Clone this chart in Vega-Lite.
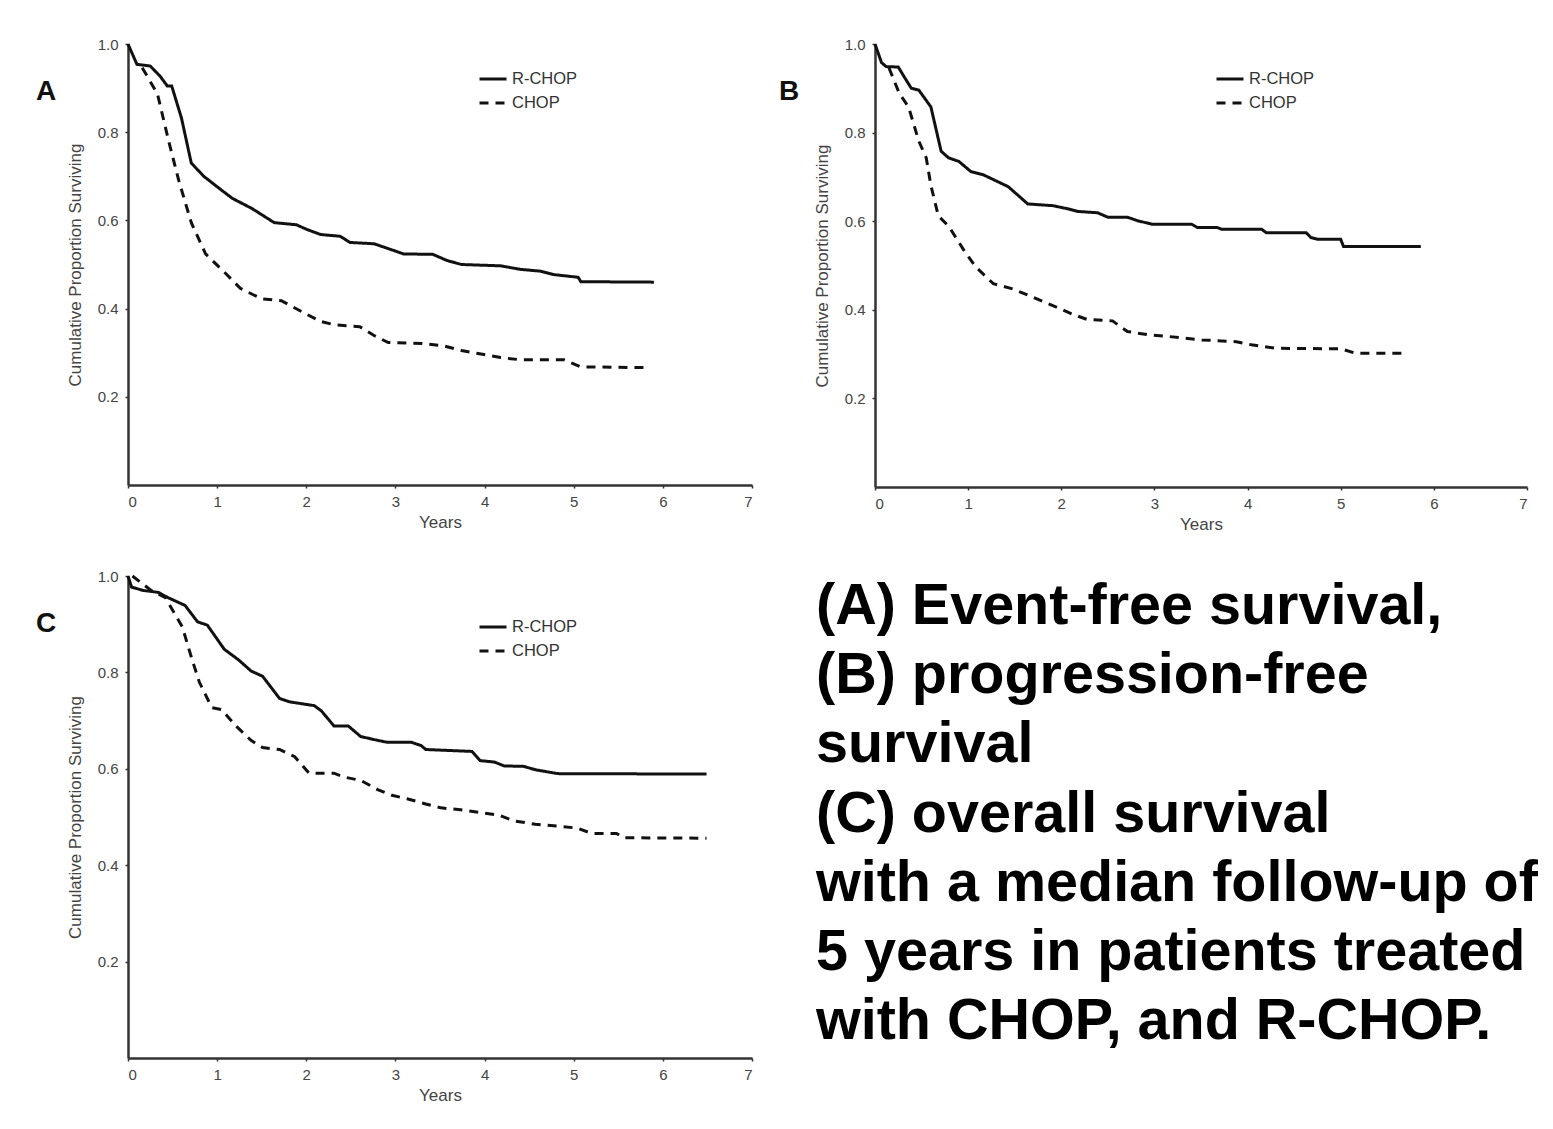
{
  "$schema": "https://vega.github.io/schema/vega-lite/v6.json",
  "background": "white",
  "padding": {"left": 36, "top": 37, "right": 0, "bottom": 0},
  "config": {
    "view": {"stroke": null},
    "axis": {"grid": false, "domainColor": "#333", "domainWidth": 2.5, "tickColor": "#333", "tickSize": 3, "tickWidth": 1.5, "labelFont": "Liberation Sans Narrow, Liberation Sans, Arial", "labelFontSize": 15, "labelColor": "#444", "titleFont": "Liberation Sans Narrow, Liberation Sans, Arial", "titleFontSize": 17, "titleFontWeight": "normal", "titleColor": "#444"},
    "axisX": {"labelPadding": 6, "titlePadding": 5},
    "axisY": {"labelPadding": 7, "titlePadding": 13},
    "legend": {"labelFont": "Liberation Sans Narrow, Liberation Sans, Arial", "labelFontSize": 16.5, "labelColor": "#333"},
    "title": {"font": "Liberation Sans", "fontSize": 28, "fontWeight": "bold", "color": "#111", "anchor": "start", "frame": "group", "offset": 0}
  },
  "data": {"values": [
    {"panel":"A","series":"R-CHOP","t":0,"s":1.0},{"panel":"A","series":"R-CHOP","t":0.1,"s":0.954},{"panel":"A","series":"R-CHOP","t":0.25,"s":0.95},{"panel":"A","series":"R-CHOP","t":0.36,"s":0.927},{"panel":"A","series":"R-CHOP","t":0.44,"s":0.905},{"panel":"A","series":"R-CHOP","t":0.49,"s":0.905},{"panel":"A","series":"R-CHOP","t":0.6,"s":0.832},{"panel":"A","series":"R-CHOP","t":0.71,"s":0.73},{"panel":"A","series":"R-CHOP","t":0.85,"s":0.70},{"panel":"A","series":"R-CHOP","t":1.04,"s":0.67},{"panel":"A","series":"R-CHOP","t":1.17,"s":0.65},{"panel":"A","series":"R-CHOP","t":1.39,"s":0.627},{"panel":"A","series":"R-CHOP","t":1.64,"s":0.595},{"panel":"A","series":"R-CHOP","t":1.89,"s":0.59},{"panel":"A","series":"R-CHOP","t":2.0,"s":0.58},{"panel":"A","series":"R-CHOP","t":2.16,"s":0.568},{"panel":"A","series":"R-CHOP","t":2.38,"s":0.564},{"panel":"A","series":"R-CHOP","t":2.49,"s":0.55},{"panel":"A","series":"R-CHOP","t":2.76,"s":0.547},{"panel":"A","series":"R-CHOP","t":2.92,"s":0.536},{"panel":"A","series":"R-CHOP","t":3.09,"s":0.524},{"panel":"A","series":"R-CHOP","t":3.42,"s":0.523},{"panel":"A","series":"R-CHOP","t":3.58,"s":0.509},{"panel":"A","series":"R-CHOP","t":3.74,"s":0.50},{"panel":"A","series":"R-CHOP","t":4.18,"s":0.497},{"panel":"A","series":"R-CHOP","t":4.4,"s":0.489},{"panel":"A","series":"R-CHOP","t":4.62,"s":0.485},{"panel":"A","series":"R-CHOP","t":4.78,"s":0.477},{"panel":"A","series":"R-CHOP","t":5.05,"s":0.471},{"panel":"A","series":"R-CHOP","t":5.08,"s":0.461},{"panel":"A","series":"R-CHOP","t":5.9,"s":0.46},
    {"panel":"A","series":"CHOP","t":0.16,"s":0.946},{"panel":"A","series":"CHOP","t":0.33,"s":0.887},{"panel":"A","series":"CHOP","t":0.46,"s":0.777},{"panel":"A","series":"CHOP","t":0.57,"s":0.69},{"panel":"A","series":"CHOP","t":0.71,"s":0.595},{"panel":"A","series":"CHOP","t":0.87,"s":0.524},{"panel":"A","series":"CHOP","t":1.07,"s":0.485},{"panel":"A","series":"CHOP","t":1.26,"s":0.446},{"panel":"A","series":"CHOP","t":1.5,"s":0.422},{"panel":"A","series":"CHOP","t":1.72,"s":0.418},{"panel":"A","series":"CHOP","t":1.94,"s":0.394},{"panel":"A","series":"CHOP","t":2.16,"s":0.371},{"panel":"A","series":"CHOP","t":2.32,"s":0.363},{"panel":"A","series":"CHOP","t":2.6,"s":0.359},{"panel":"A","series":"CHOP","t":2.76,"s":0.339},{"panel":"A","series":"CHOP","t":2.92,"s":0.323},{"panel":"A","series":"CHOP","t":3.3,"s":0.321},{"panel":"A","series":"CHOP","t":3.55,"s":0.315},{"panel":"A","series":"CHOP","t":3.74,"s":0.305},{"panel":"A","series":"CHOP","t":3.96,"s":0.297},{"panel":"A","series":"CHOP","t":4.18,"s":0.289},{"panel":"A","series":"CHOP","t":4.4,"s":0.284},{"panel":"A","series":"CHOP","t":4.89,"s":0.284},{"panel":"A","series":"CHOP","t":5.08,"s":0.268},{"panel":"A","series":"CHOP","t":5.85,"s":0.266},
    {"panel":"B","series":"R-CHOP","t":0,"s":1.0},{"panel":"B","series":"R-CHOP","t":0.07,"s":0.958},{"panel":"B","series":"R-CHOP","t":0.12,"s":0.949},{"panel":"B","series":"R-CHOP","t":0.25,"s":0.948},{"panel":"B","series":"R-CHOP","t":0.31,"s":0.927},{"panel":"B","series":"R-CHOP","t":0.39,"s":0.90},{"panel":"B","series":"R-CHOP","t":0.47,"s":0.896},{"panel":"B","series":"R-CHOP","t":0.6,"s":0.858},{"panel":"B","series":"R-CHOP","t":0.71,"s":0.758},{"panel":"B","series":"R-CHOP","t":0.79,"s":0.743},{"panel":"B","series":"R-CHOP","t":0.9,"s":0.735},{"panel":"B","series":"R-CHOP","t":1.03,"s":0.712},{"panel":"B","series":"R-CHOP","t":1.16,"s":0.705},{"panel":"B","series":"R-CHOP","t":1.32,"s":0.689},{"panel":"B","series":"R-CHOP","t":1.43,"s":0.678},{"panel":"B","series":"R-CHOP","t":1.64,"s":0.639},{"panel":"B","series":"R-CHOP","t":1.91,"s":0.635},{"panel":"B","series":"R-CHOP","t":2.07,"s":0.628},{"panel":"B","series":"R-CHOP","t":2.18,"s":0.622},{"panel":"B","series":"R-CHOP","t":2.39,"s":0.619},{"panel":"B","series":"R-CHOP","t":2.5,"s":0.609},{"panel":"B","series":"R-CHOP","t":2.71,"s":0.609},{"panel":"B","series":"R-CHOP","t":2.82,"s":0.601},{"panel":"B","series":"R-CHOP","t":2.98,"s":0.593},{"panel":"B","series":"R-CHOP","t":3.4,"s":0.593},{"panel":"B","series":"R-CHOP","t":3.46,"s":0.586},{"panel":"B","series":"R-CHOP","t":3.67,"s":0.586},{"panel":"B","series":"R-CHOP","t":3.72,"s":0.582},{"panel":"B","series":"R-CHOP","t":4.15,"s":0.582},{"panel":"B","series":"R-CHOP","t":4.2,"s":0.574},{"panel":"B","series":"R-CHOP","t":4.63,"s":0.574},{"panel":"B","series":"R-CHOP","t":4.68,"s":0.563},{"panel":"B","series":"R-CHOP","t":4.76,"s":0.559},{"panel":"B","series":"R-CHOP","t":5.0,"s":0.559},{"panel":"B","series":"R-CHOP","t":5.03,"s":0.543},{"panel":"B","series":"R-CHOP","t":5.86,"s":0.543},
    {"panel":"B","series":"CHOP","t":0.15,"s":0.946},{"panel":"B","series":"CHOP","t":0.26,"s":0.889},{"panel":"B","series":"CHOP","t":0.36,"s":0.858},{"panel":"B","series":"CHOP","t":0.47,"s":0.781},{"panel":"B","series":"CHOP","t":0.55,"s":0.743},{"panel":"B","series":"CHOP","t":0.6,"s":0.681},{"panel":"B","series":"CHOP","t":0.68,"s":0.612},{"panel":"B","series":"CHOP","t":0.79,"s":0.589},{"panel":"B","series":"CHOP","t":0.95,"s":0.536},{"panel":"B","series":"CHOP","t":1.08,"s":0.497},{"panel":"B","series":"CHOP","t":1.27,"s":0.459},{"panel":"B","series":"CHOP","t":1.48,"s":0.447},{"panel":"B","series":"CHOP","t":1.7,"s":0.428},{"panel":"B","series":"CHOP","t":1.96,"s":0.405},{"panel":"B","series":"CHOP","t":2.12,"s":0.39},{"panel":"B","series":"CHOP","t":2.28,"s":0.378},{"panel":"B","series":"CHOP","t":2.55,"s":0.375},{"panel":"B","series":"CHOP","t":2.71,"s":0.351},{"panel":"B","series":"CHOP","t":2.92,"s":0.344},{"panel":"B","series":"CHOP","t":3.14,"s":0.34},{"panel":"B","series":"CHOP","t":3.51,"s":0.332},{"panel":"B","series":"CHOP","t":3.88,"s":0.328},{"panel":"B","series":"CHOP","t":4.04,"s":0.321},{"panel":"B","series":"CHOP","t":4.31,"s":0.313},{"panel":"B","series":"CHOP","t":5.0,"s":0.312},{"panel":"B","series":"CHOP","t":5.16,"s":0.302},{"panel":"B","series":"CHOP","t":5.72,"s":0.302},
    {"panel":"C","series":"R-CHOP","t":0,"s":1.0},{"panel":"C","series":"R-CHOP","t":0.04,"s":0.977},{"panel":"C","series":"R-CHOP","t":0.17,"s":0.97},{"panel":"C","series":"R-CHOP","t":0.34,"s":0.966},{"panel":"C","series":"R-CHOP","t":0.45,"s":0.955},{"panel":"C","series":"R-CHOP","t":0.64,"s":0.939},{"panel":"C","series":"R-CHOP","t":0.78,"s":0.905},{"panel":"C","series":"R-CHOP","t":0.89,"s":0.898},{"panel":"C","series":"R-CHOP","t":1.08,"s":0.848},{"panel":"C","series":"R-CHOP","t":1.24,"s":0.826},{"panel":"C","series":"R-CHOP","t":1.38,"s":0.803},{"panel":"C","series":"R-CHOP","t":1.51,"s":0.792},{"panel":"C","series":"R-CHOP","t":1.7,"s":0.746},{"panel":"C","series":"R-CHOP","t":1.81,"s":0.739},{"panel":"C","series":"R-CHOP","t":2.09,"s":0.731},{"panel":"C","series":"R-CHOP","t":2.17,"s":0.72},{"panel":"C","series":"R-CHOP","t":2.31,"s":0.689},{"panel":"C","series":"R-CHOP","t":2.47,"s":0.689},{"panel":"C","series":"R-CHOP","t":2.61,"s":0.667},{"panel":"C","series":"R-CHOP","t":2.8,"s":0.659},{"panel":"C","series":"R-CHOP","t":2.91,"s":0.655},{"panel":"C","series":"R-CHOP","t":3.18,"s":0.655},{"panel":"C","series":"R-CHOP","t":3.29,"s":0.648},{"panel":"C","series":"R-CHOP","t":3.34,"s":0.64},{"panel":"C","series":"R-CHOP","t":3.86,"s":0.636},{"panel":"C","series":"R-CHOP","t":3.95,"s":0.617},{"panel":"C","series":"R-CHOP","t":4.11,"s":0.614},{"panel":"C","series":"R-CHOP","t":4.22,"s":0.606},{"panel":"C","series":"R-CHOP","t":4.44,"s":0.605},{"panel":"C","series":"R-CHOP","t":4.57,"s":0.598},{"panel":"C","series":"R-CHOP","t":4.82,"s":0.59},{"panel":"C","series":"R-CHOP","t":6.49,"s":0.589},
    {"panel":"C","series":"CHOP","t":0.05,"s":1.0},{"panel":"C","series":"CHOP","t":0.12,"s":0.99},{"panel":"C","series":"CHOP","t":0.26,"s":0.97},{"panel":"C","series":"CHOP","t":0.42,"s":0.955},{"panel":"C","series":"CHOP","t":0.61,"s":0.894},{"panel":"C","series":"CHOP","t":0.72,"s":0.826},{"panel":"C","series":"CHOP","t":0.8,"s":0.78},{"panel":"C","series":"CHOP","t":0.94,"s":0.727},{"panel":"C","series":"CHOP","t":1.05,"s":0.723},{"panel":"C","series":"CHOP","t":1.21,"s":0.689},{"panel":"C","series":"CHOP","t":1.38,"s":0.659},{"panel":"C","series":"CHOP","t":1.51,"s":0.644},{"panel":"C","series":"CHOP","t":1.7,"s":0.64},{"panel":"C","series":"CHOP","t":1.87,"s":0.625},{"panel":"C","series":"CHOP","t":2.03,"s":0.591},{"panel":"C","series":"CHOP","t":2.31,"s":0.591},{"panel":"C","series":"CHOP","t":2.42,"s":0.583},{"panel":"C","series":"CHOP","t":2.61,"s":0.576},{"panel":"C","series":"CHOP","t":2.8,"s":0.557},{"panel":"C","series":"CHOP","t":2.96,"s":0.545},{"panel":"C","series":"CHOP","t":3.13,"s":0.538},{"panel":"C","series":"CHOP","t":3.34,"s":0.527},{"panel":"C","series":"CHOP","t":3.51,"s":0.519},{"panel":"C","series":"CHOP","t":3.73,"s":0.515},{"panel":"C","series":"CHOP","t":4.16,"s":0.504},{"panel":"C","series":"CHOP","t":4.33,"s":0.492},{"panel":"C","series":"CHOP","t":4.57,"s":0.485},{"panel":"C","series":"CHOP","t":4.82,"s":0.481},{"panel":"C","series":"CHOP","t":5.04,"s":0.477},{"panel":"C","series":"CHOP","t":5.2,"s":0.466},{"panel":"C","series":"CHOP","t":5.48,"s":0.466},{"panel":"C","series":"CHOP","t":5.56,"s":0.457},{"panel":"C","series":"CHOP","t":6.49,"s":0.456}
  ]},
  "vconcat": [
    {"hconcat": [
      {"width": 624, "height": 441,
       "title": {"text": "A", "dx": -92, "dy": 73},
       "transform": [{"filter": "datum.panel === 'A'"}],
       "mark": {"type": "line", "strokeWidth": 3, "color": "#111"},
       "encoding": {
         "x": {"field": "t", "type": "quantitative", "scale": {"domain": [0, 7], "nice": false}, "axis": {"title": "Years", "values": [0,1,2,3,4,5,6,7], "format": "d"}},
         "y": {"field": "s", "type": "quantitative", "scale": {"domain": [0, 1], "nice": false}, "axis": {"title": "Cumulative Proportion Surviving", "values": [0.2,0.4,0.6,0.8,1.0], "format": ".1f"}},
         "strokeDash": {"field": "series", "type": "nominal", "scale": {"domain": ["R-CHOP", "CHOP"], "range": [[1, 0], [9, 7]]},
           "legend": {"title": null, "orient": "none", "legendX": 350, "legendY": 20, "symbolType": "stroke", "symbolSize": 729, "symbolStrokeWidth": 3, "symbolStrokeColor": "#111", "rowPadding": -6, "labelOffset": 4}}
       }},
      {"width": 652, "height": 443,
       "title": {"text": "B", "dx": -96, "dy": 73},
       "transform": [{"filter": "datum.panel === 'B'"}],
       "mark": {"type": "line", "strokeWidth": 3, "color": "#111"},
       "encoding": {
         "x": {"field": "t", "type": "quantitative", "scale": {"domain": [0, 7], "nice": false}, "axis": {"title": "Years", "values": [0,1,2,3,4,5,6,7], "format": "d"}},
         "y": {"field": "s", "type": "quantitative", "scale": {"domain": [0, 1], "nice": false}, "axis": {"title": "Cumulative Proportion Surviving", "values": [0.2,0.4,0.6,0.8,1.0], "format": ".1f"}},
         "strokeDash": {"field": "series", "type": "nominal", "scale": {"domain": ["R-CHOP", "CHOP"], "range": [[1, 0], [9, 7]]},
           "legend": {"title": null, "orient": "none", "legendX": 340, "legendY": 20, "symbolType": "stroke", "symbolSize": 729, "symbolStrokeWidth": 3, "symbolStrokeColor": "#111", "rowPadding": -6, "labelOffset": 4}}
       }}
    ], "spacing": 26, "resolve": {"scale": {"strokeDash": "independent"}, "legend": {"strokeDash": "independent"}}},
    {"hconcat": [
      {"width": 624, "height": 482,
       "title": {"text": "C", "dx": -92, "dy": 73},
       "transform": [{"filter": "datum.panel === 'C'"}],
       "mark": {"type": "line", "strokeWidth": 3, "color": "#111"},
       "encoding": {
         "x": {"field": "t", "type": "quantitative", "scale": {"domain": [0, 7], "nice": false}, "axis": {"title": "Years", "values": [0,1,2,3,4,5,6,7], "format": "d"}},
         "y": {"field": "s", "type": "quantitative", "scale": {"domain": [0, 1], "nice": false}, "axis": {"title": "Cumulative Proportion Surviving", "values": [0.2,0.4,0.6,0.8,1.0], "format": ".1f"}},
         "strokeDash": {"field": "series", "type": "nominal", "scale": {"domain": ["R-CHOP", "CHOP"], "range": [[1, 0], [9, 7]]},
           "legend": {"title": null, "orient": "none", "legendX": 350, "legendY": 36, "symbolType": "stroke", "symbolSize": 729, "symbolStrokeWidth": 3, "symbolStrokeColor": "#111", "rowPadding": -6, "labelOffset": 4}}
       }},
      {"width": 728, "height": 482,
       "data": {"values": [
         {"line": 1, "x0": 0, "text": "(A) Event-free survival,"},
         {"line": 2, "x0": 0, "text": "(B) progression-free"},
         {"line": 3, "x0": 0, "text": "survival"},
         {"line": 4, "x0": 0, "text": "(C) overall survival"},
         {"line": 5, "x0": 0, "text": "with a median follow-up of"},
         {"line": 6, "x0": 0, "text": "5 years in patients treated"},
         {"line": 7, "x0": 0, "text": "with CHOP, and R-CHOP."}
       ]},
       "mark": {"type": "text", "align": "left", "baseline": "middle", "font": "Liberation Sans", "fontWeight": "bold", "fontSize": 57.5, "color": "#000"},
       "encoding": {
         "x": {"field": "x0", "type": "quantitative", "scale": {"domain": [0, 1]}, "axis": null},
         "y": {"field": "line", "type": "quantitative", "scale": {"domain": [0.552, 7.52], "reverse": true, "nice": false, "zero": false}, "axis": null},
         "text": {"field": "text"}
       }}
    ], "spacing": 63, "resolve": {"scale": {"strokeDash": "independent", "x": "independent", "y": "independent"}}}
  ],
  "spacing": 37,
  "resolve": {"scale": {"strokeDash": "independent", "x": "independent", "y": "independent"}, "legend": {"strokeDash": "independent"}}
}
